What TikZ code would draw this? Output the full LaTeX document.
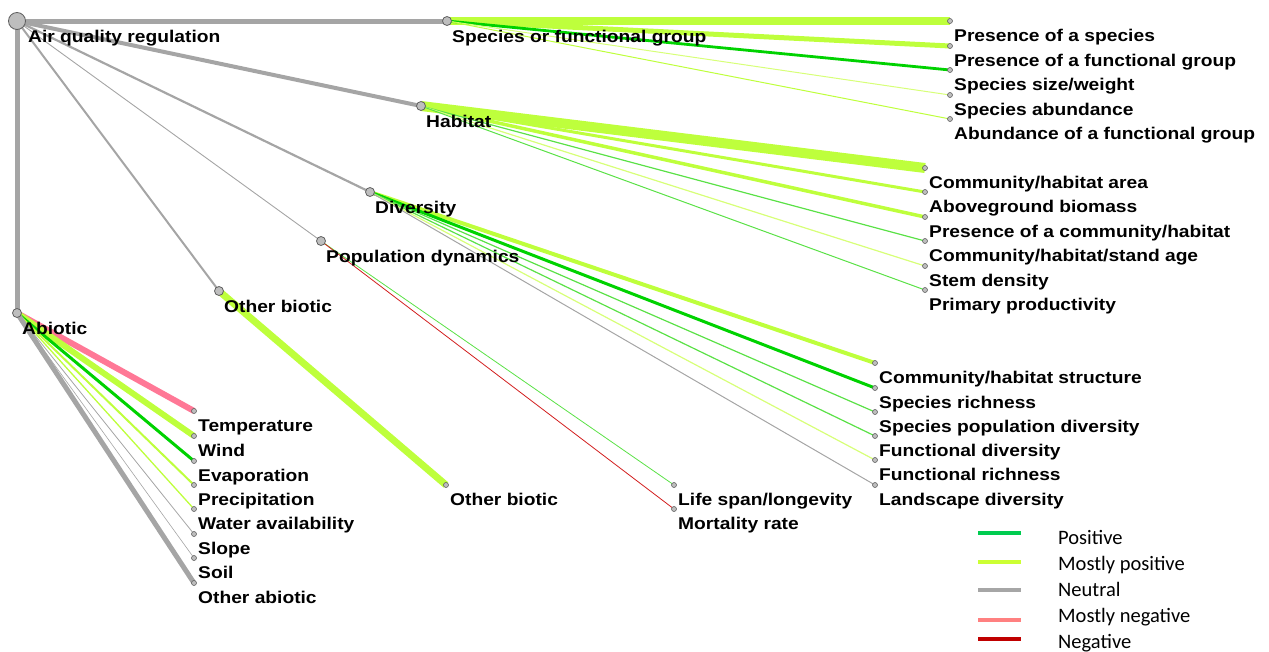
\documentclass[tikz,border=0pt]{standalone}
\usepackage{fontspec}
\setmainfont{Liberation Sans}
\newfontfamily\lblfont[FakeStretch=1.13]{Liberation Sans}
\newfontfamily\legfont{Carlito}
\definecolor{gline}{RGB}{165,165,165}
\definecolor{lime}{RGB}{190,255,60}
\definecolor{llime}{RGB}{215,255,120}
\definecolor{pgreen}{RGB}{0,210,0}
\definecolor{mgreen}{RGB}{90,225,70}
\definecolor{pinkneg}{RGB}{255,120,150}
\definecolor{redneg}{RGB}{210,30,30}
\definecolor{legpos}{RGB}{0,204,80}
\definecolor{leglime}{RGB}{204,255,51}
\definecolor{leggray}{RGB}{166,166,166}
\definecolor{legpink}{RGB}{255,128,128}
\definecolor{legred}{RGB}{192,0,0}
\definecolor{dotfill}{RGB}{190,190,190}
\definecolor{dotline}{RGB}{95,95,95}
\pgfdeclarelayer{edges}
\pgfsetlayers{edges,main}
\tikzset{
  dotroot/.style={circle,fill=dotfill,draw=dotline,line width=0.8pt,inner sep=0pt,minimum size=17pt},
  dotmid/.style={circle,fill=dotfill,draw=dotline,line width=0.8pt,inner sep=0pt,minimum size=9pt},
  dotleaf/.style={circle,fill=dotfill,draw=dotline,line width=0.6pt,inner sep=0pt,minimum size=5pt},
  lbl/.style={anchor=base west,inner sep=0pt,font=\lblfont\bfseries\fontsize{17}{20}\selectfont},
  legtext/.style={anchor=base west,inner sep=0pt,font=\legfont\fontsize{20.5}{24}\selectfont},
  legline/.style={line width=4pt},
  edge/.style={line cap=butt}
}
\newcommand\mkleaf[6]{%
  \node[dotleaf] (#2) at (#3,#4) {};
  \node[lbl] (#2l) at (#3+4,#4+20.5) {#6};
  \begin{pgfonlayer}{edges}\draw[edge,#5] (#1.center) -- (#2.center);\end{pgfonlayer}
}
\newcommand\mkmid[6]{%
  \node[dotmid] (#2) at (#3,#4) {};
  \node[lbl] (#2l) at (#3+5,#4+21) {#6};
  \begin{pgfonlayer}{edges}\draw[edge,#5] (#1.center) -- (#2.center);\end{pgfonlayer}
}
\begin{document}
\begin{tikzpicture}[x=1pt,y=-1pt]
\useasboundingbox (0,0) rectangle (1269,651);
% root
\node[dotroot] (root) at (17,21) {};
\node[lbl] (rootl) at (28,42) {Air quality regulation};
% first level
\mkmid{root}{spec}{447}{21}{gline,line width=5pt}{Species or functional group}
\mkmid{root}{hab}{421}{106}{gline,line width=4pt}{Habitat}
\mkmid{root}{div}{370}{192}{gline,line width=2.2pt}{Diversity}
\mkmid{root}{pop}{321}{241}{gline,line width=0.9pt}{Population dynamics}
\mkmid{root}{ob}{219}{291}{gline,line width=2pt}{Other biotic}
\mkmid{root}{abio}{17}{313}{gline,line width=5pt}{Abiotic}
% species
\mkleaf{spec}{s1}{950}{21}{lime,line width=8pt}{Presence of a species}
\mkleaf{spec}{s2}{950}{46}{lime,line width=5pt}{Presence of a functional group}
\mkleaf{spec}{s3}{950}{70}{pgreen,line width=2.8pt}{Species size/weight}
\mkleaf{spec}{s4}{950}{95}{llime,line width=1pt}{Species abundance}
\mkleaf{spec}{s5}{950}{119}{lime,line width=1pt}{Abundance of a functional group}
% habitat
\mkleaf{hab}{h1}{925}{168}{lime,line width=10pt}{Community/habitat area}
\mkleaf{hab}{h2}{925}{192}{lime,line width=3pt}{Aboveground biomass}
\mkleaf{hab}{h3}{925}{217}{lime,line width=3.5pt}{Presence of a community/habitat}
\mkleaf{hab}{h4}{925}{241}{mgreen,line width=1.2pt}{Community/habitat/stand age}
\mkleaf{hab}{h5}{925}{266}{llime,line width=1.2pt}{Stem density}
\mkleaf{hab}{h6}{925}{290}{mgreen,line width=1pt}{Primary productivity}
% diversity
\mkleaf{div}{d1}{875}{363}{lime,line width=4pt}{Community/habitat structure}
\mkleaf{div}{d2}{875}{388}{pgreen,line width=3pt}{Species richness}
\mkleaf{div}{d3}{875}{412}{mgreen,line width=1.2pt}{Species population diversity}
\mkleaf{div}{d4}{875}{436}{mgreen,line width=1.2pt}{Functional diversity}
\mkleaf{div}{d5}{875}{460}{llime,line width=1.2pt}{Functional richness}
\mkleaf{div}{d6}{875}{485}{gline,line width=1pt}{Landscape diversity}
% population dynamics
\mkleaf{pop}{p1}{674}{485}{mgreen,line width=0.8pt}{Life span/longevity}
\mkleaf{pop}{p2}{674}{509}{redneg,line width=0.8pt}{Mortality rate}
% other biotic
\mkleaf{ob}{ob2}{446}{485}{lime,line width=7pt}{Other biotic}
% abiotic
\mkleaf{abio}{a1}{194}{411}{pinkneg,line width=6pt}{Temperature}
\mkleaf{abio}{a2}{194}{436}{lime,line width=6pt}{Wind}
\mkleaf{abio}{a3}{194}{461}{pgreen,line width=3pt}{Evaporation}
\mkleaf{abio}{a4}{194}{485}{lime,line width=2pt}{Precipitation}
\mkleaf{abio}{a5}{194}{509}{lime,line width=1.3pt}{Water availability}
\mkleaf{abio}{a6}{194}{534}{gline,line width=0.8pt}{Slope}
\mkleaf{abio}{a7}{194}{558}{gline,line width=0.6pt}{Soil}
\mkleaf{abio}{a8}{194}{583}{gline,line width=5pt}{Other abiotic}
% legend
\coordinate (lg1a) at (978,533); \coordinate (lg1b) at (1021,533);
\coordinate (lg2a) at (978,562); \coordinate (lg2b) at (1021,562);
\coordinate (lg3a) at (978,590); \coordinate (lg3b) at (1021,590);
\coordinate (lg4a) at (978,620); \coordinate (lg4b) at (1021,620);
\coordinate (lg5a) at (978,639); \coordinate (lg5b) at (1021,639);
\draw[legline,legpos] (lg1a) -- (lg1b);
\draw[legline,leglime] (lg2a) -- (lg2b);
\draw[legline,leggray] (lg3a) -- (lg3b);
\draw[legline,legpink] (lg4a) -- (lg4b);
\draw[legline,legred] (lg5a) -- (lg5b);
\node[legtext] (lt1) at (1058,544) {Positive};
\node[legtext] (lt2) at (1058,570) {Mostly positive};
\node[legtext] (lt3) at (1058,596) {Neutral};
\node[legtext] (lt4) at (1058,622) {Mostly negative};
\node[legtext] (lt5) at (1058,648) {Negative};
\end{tikzpicture}
\end{document}
